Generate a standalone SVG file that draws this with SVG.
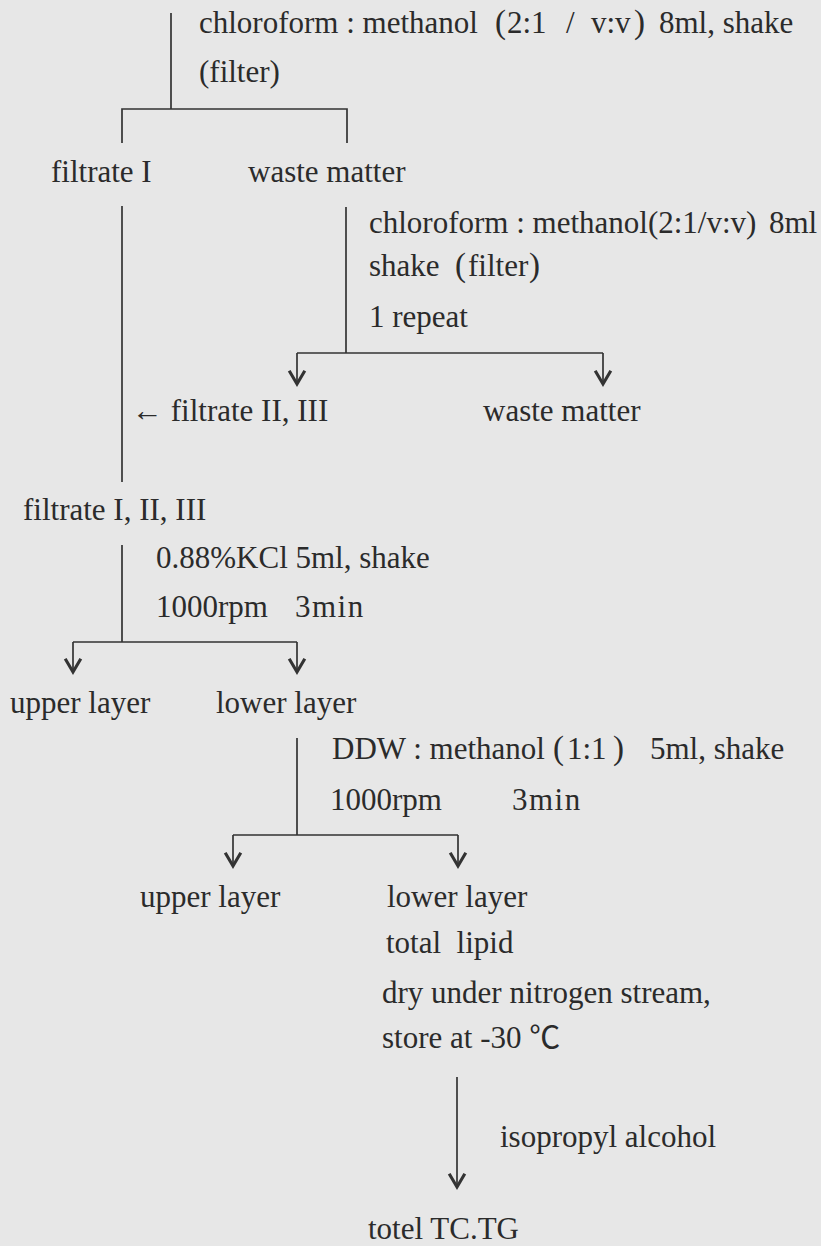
<svg xmlns="http://www.w3.org/2000/svg" width="821" height="1246" viewBox="0 0 821 1246">
<defs>
<style>
.t{font-family:"Liberation Serif","Noto Sans CJK SC",serif;font-size:31px;fill:#2b2b2b}
.p{font-size:33px}
.ln{stroke:#333;stroke-width:1.7;fill:none}
</style>
<marker id="ah" markerUnits="userSpaceOnUse" markerWidth="24" markerHeight="24" viewBox="-14 -10 18 20" refX="0" refY="0" orient="auto">
<path d="M-11,-6.5 L0,0 L-11,6.5" fill="none" stroke="#333" stroke-width="2.6" stroke-linejoin="miter"/>
</marker>
</defs>
<rect width="821" height="1246" fill="#e7e7e7"/>
<g id="connectors">
<path class="ln" d="M171,13 V109 M122,143 V109 H347 V143"/>
<path class="ln" d="M122,206 V482"/>
<path class="ln" d="M346,207 V353"/>
<path class="ln" d="M297,353 H603"/>
<path class="ln" d="M297,353 V384" marker-end="url(#ah)"/>
<path class="ln" d="M603,353 V384" marker-end="url(#ah)"/>
<path class="ln" d="M122,545 V642 M73,642 H297"/>
<path class="ln" d="M73,642 V672" marker-end="url(#ah)"/>
<path class="ln" d="M297,642 V672" marker-end="url(#ah)"/>
<path class="ln" d="M297,738 V835 M233,835 H458"/>
<path class="ln" d="M233,835 V866" marker-end="url(#ah)"/>
<path class="ln" d="M458,835 V866" marker-end="url(#ah)"/>
<path class="ln" d="M457,1077 V1187" marker-end="url(#ah)"/>
</g>
<g id="step1">
<text class="t" y="33"><tspan x="199">chloroform : methanol</tspan><tspan class="p" x="495">(</tspan><tspan x="507">2:1</tspan><tspan x="566">/</tspan><tspan x="591">v:v</tspan><tspan class="p" x="634">)</tspan><tspan x="659">8ml, shake</tspan></text>
<text class="t" x="199" y="82">(filter)</text>
</g>
<g id="filtrate1"><text class="t" x="51" y="182">filtrate I</text></g>
<g id="waste1"><text class="t" x="248" y="182">waste matter</text></g>
<g id="step2">
<text class="t" x="369" y="233">chloroform : methanol(2:1/v:v)<tspan x="769">8ml</tspan></text>
<text class="t" y="276"><tspan x="369">shake</tspan><tspan class="p" x="455">(</tspan><tspan x="468">filter</tspan><tspan class="p" x="529">)</tspan></text>
<text class="t" x="369" y="327">1 repeat</text>
</g>
<g id="filtrate23"><text class="t" x="132" y="421">← filtrate II, III</text></g>
<g id="waste2"><text class="t" x="483" y="421">waste matter</text></g>
<g id="filtrate123"><text class="t" x="23" y="520">filtrate I, II, III</text></g>
<g id="step3">
<text class="t" x="156" y="568">0.88%KCl 5ml, shake</text>
<text class="t" x="156" y="617">1000rpm</text>
<text class="t" x="295" y="617" letter-spacing="1.5">3min</text>
</g>
<g id="upper1"><text class="t" x="10" y="713">upper layer</text></g>
<g id="lower1"><text class="t" x="216" y="713">lower layer</text></g>
<g id="step4">
<text class="t" y="759"><tspan x="332">DDW : methanol</tspan><tspan class="p" x="553">(</tspan><tspan x="567">1:1</tspan><tspan class="p" x="613">)</tspan><tspan x="650">5ml, shake</tspan></text>
<text class="t" x="330" y="810">1000rpm</text>
<text class="t" x="512" y="810" letter-spacing="1.5">3min</text>
</g>
<g id="upper2"><text class="t" x="140" y="907">upper layer</text></g>
<g id="lower2">
<text class="t" x="387" y="907">lower layer</text>
<text class="t" x="386" y="953" xml:space="preserve">total  lipid</text>
<text class="t" x="382" y="1003">dry under nitrogen stream,</text>
<text class="t" x="382" y="1048">store at -30 ℃</text>
</g>
<g id="reagent"><text class="t" x="500" y="1147">isopropyl alcohol</text></g>
<g id="result"><text class="t" x="368" y="1239">totel TC.TG</text></g>
</svg>
